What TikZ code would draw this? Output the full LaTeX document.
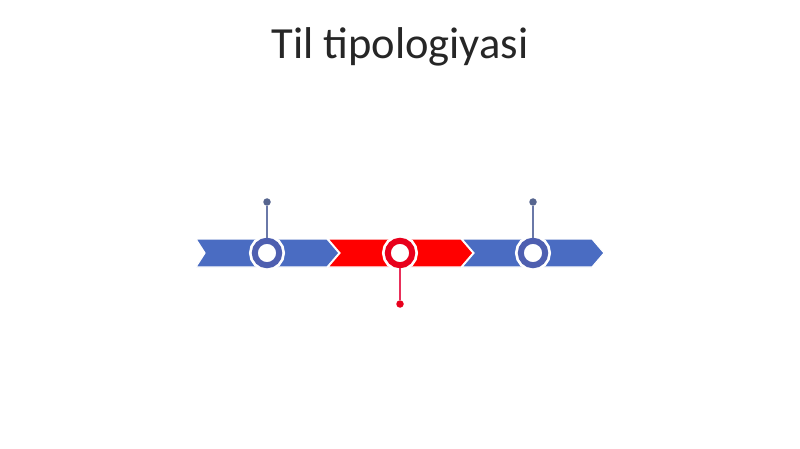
\documentclass[tikz,border=0pt]{standalone}
\usepackage{fontspec}
\setmainfont{Carlito}
\definecolor{barblue}{HTML}{4A6CC2}
\definecolor{ringblue}{HTML}{4E5FB0}
\definecolor{pinblue}{HTML}{6A78A8}
\definecolor{dotblue}{HTML}{56658F}
\definecolor{barred}{HTML}{FF0000}
\definecolor{ringred}{HTML}{E8001C}
\definecolor{pinred}{HTML}{E8305A}
\definecolor{titlegray}{HTML}{262626}
\begin{document}
\begin{tikzpicture}[x=1pt,y=-1pt,
  seg/.style={draw=white,line width=1.2pt,line join=miter},
  ring/.style={circle,inner sep=0pt,minimum size=24.4pt,line width=6pt,fill=white,
    preaction={draw=white,line width=11.5pt}},
  pin/.style={circle,inner sep=0pt,minimum size=7.5pt},
  pinline/.style={line width=1.3pt}]
\useasboundingbox (0,0) rectangle (800,449);
\fill[white] (0,0) rectangle (800,449);
\node[anchor=base,text=titlegray,font=\fontsize{44.5}{52}\selectfont] (title) at (400,59) {Til tipologiyasi};
% chevrons
\filldraw[seg,fill=barblue] (196,239) -- (327,239) -- (339,253) -- (327,267) -- (196,267) -- (205,253) -- cycle;
\filldraw[seg,fill=barred] (328,239) -- (461,239) -- (473,253) -- (461,267) -- (328,267) -- (340,253) -- cycle;
\filldraw[seg,fill=barblue] (462,239) -- (592,239) -- (604,253) -- (592,267) -- (462,267) -- (474,253) -- cycle;
% pins
\node[pin,fill=dotblue] (d1) at (267,202) {};
\node[pin,fill=ringred] (d2) at (400,304) {};
\node[pin,fill=dotblue] (d3) at (533,202) {};
\node[ring,draw=ringblue] (c1) at (267,253) {};
\node[ring,draw=ringred] (c2) at (400,253) {};
\node[ring,draw=ringblue] (c3) at (533,253) {};
\draw[pinline,draw=pinblue] (c1) -- (d1);
\draw[pinline,draw=pinred] (c2) -- (d2);
\draw[pinline,draw=pinblue] (c3) -- (d3);
\end{tikzpicture}
\end{document}
